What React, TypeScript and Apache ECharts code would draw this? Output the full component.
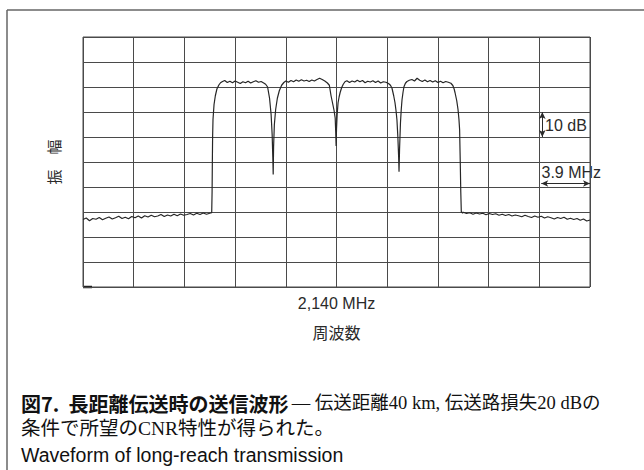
import React, { useEffect, useRef } from 'react';
import * as echarts from 'echarts';

// ---- axis settings (MHz offset from 2,140 MHz; dB relative to top graticule) ----
const X_MIN = -19.5;
const X_MAX = 19.5;
const X_DIV = 3.9; // MHz per division
const Y_MIN = -100;
const Y_MAX = 0;
const Y_DIV = 10; // dB per division

const CENTER_LABEL = '2,140 MHz';
const X_NAME = '周波数';
const Y_NAME = '振　幅';
const DB_NOTE = '10 dB';
const MHZ_NOTE = '3.9 MHz';
const DB_ARROW: [number, number][] = [[15.83, -30], [15.83, -40]];
const MHZ_ARROW: [number, number][] = [[15.75, -58.6], [19.5, -58.6]];

// ---- trace: [MHz offset, dB] ----
const noiseLeft: [number, number][] = [
  [-19.5, -73.0], [-19.25, -72.4], [-19.0, -73.5], [-18.75, -72.6], [-18.5, -72.9],
  [-18.25, -72.2], [-18.0, -73.1], [-17.75, -72.5], [-17.5, -72.0], [-17.25, -72.8],
  [-17.0, -72.3], [-16.75, -71.7], [-16.5, -72.6], [-16.25, -72.1], [-16.0, -72.7],
  [-15.75, -71.8], [-15.5, -72.3], [-15.25, -71.6], [-15.0, -72.4], [-14.75, -71.5],
  [-14.5, -72.0], [-14.25, -71.3], [-14.0, -71.9], [-13.75, -71.6], [-13.5, -71.0],
  [-13.25, -71.8], [-13.0, -71.2], [-12.75, -71.6], [-12.5, -70.9], [-12.25, -71.5],
  [-12.0, -70.8], [-11.75, -71.3], [-11.5, -71.0], [-11.25, -70.6], [-11.0, -71.2],
  [-10.75, -70.5], [-10.5, -71.0], [-10.25, -70.4], [-10.0, -70.9], [-9.75, -70.5],
];
const edgeLeft: [number, number][] = [
  [-9.6, -70.3], [-9.57, -62], [-9.55, -50], [-9.53, -40], [-9.5, -33],
  [-9.42, -27], [-9.32, -23.5], [-9.2, -20.8], [-9.05, -19.2], [-8.92, -18.3],
];
const carrier1: [number, number][] = [
  [-8.8, -17.9], [-8.6, -17.4], [-8.4, -18.2], [-8.2, -17.7], [-8.0, -18.3],
  [-7.8, -17.6], [-7.6, -18.1], [-7.4, -18.6], [-7.2, -17.9], [-7.0, -18.3],
  [-6.8, -17.7], [-6.6, -18.4], [-6.4, -17.9], [-6.2, -17.5], [-6.0, -18.1],
  [-5.8, -17.8], [-5.6, -18.4], [-5.45, -18.9],
];
const notch1: [number, number][] = [
  [-5.3, -20.0], [-5.15, -24.5], [-5.03, -31], [-4.95, -39], [-4.9, -48],
  [-4.87, -55], [-4.84, -44], [-4.78, -35], [-4.68, -29], [-4.55, -24.5],
  [-4.4, -21.5], [-4.22, -19.3], [-4.05, -18.2],
];
const carrier2: [number, number][] = [
  [-3.9, -17.6], [-3.7, -18.1], [-3.5, -17.4], [-3.3, -17.9], [-3.1, -17.2],
  [-2.9, -17.7], [-2.7, -17.1], [-2.5, -17.6], [-2.3, -17.3], [-2.1, -17.8],
  [-1.9, -17.2], [-1.7, -17.6], [-1.5, -17.0], [-1.3, -16.5], [-1.1, -17.0],
  [-0.9, -17.6], [-0.7, -18.4],
];
const notch2: [number, number][] = [
  [-0.55, -19.3], [-0.42, -23.5], [-0.3, -26.5], [-0.19, -29.3], [-0.1, -32.5],
  [-0.06, -38], [-0.03, -43.6], [0.0, -37], [0.05, -31], [0.12, -26.3],
  [0.2, -24], [0.28, -22.2], [0.4, -20.2], [0.52, -18.9], [0.65, -17.9],
];
const carrier3: [number, number][] = [
  [0.8, -17.5], [1.0, -18.2], [1.2, -17.6], [1.4, -18.0], [1.6, -17.3],
  [1.8, -17.9], [2.0, -17.4], [2.2, -18.3], [2.4, -17.7], [2.6, -18.0],
  [2.8, -17.5], [3.0, -18.2], [3.2, -17.6], [3.4, -18.4], [3.6, -17.9],
  [3.8, -18.1], [4.0, -18.6], [4.15, -19.3],
];
const notch3: [number, number][] = [
  [4.27, -20.5], [4.4, -23.5], [4.5, -26.3], [4.58, -29.5], [4.65, -33.2],
  [4.72, -40], [4.78, -48], [4.81, -53.9], [4.85, -45], [4.92, -34.4],
  [4.98, -29], [5.04, -25.1], [5.12, -22], [5.19, -19.9], [5.3, -18.5],
  [5.42, -17.8], [5.6, -17.3],
];
const carrier4: [number, number][] = [
  [5.8, -17.0], [6.0, -17.6], [6.2, -16.5], [6.4, -17.3], [6.6, -17.8],
  [6.8, -17.2], [7.0, -17.9], [7.2, -17.4], [7.4, -18.0], [7.6, -17.5],
  [7.8, -18.2], [8.0, -17.7], [8.2, -18.3], [8.4, -17.8], [8.6, -18.1],
  [8.8, -18.5],
];
const edgeRight: [number, number][] = [
  [8.95, -19.4], [9.05, -20.8], [9.12, -22.3], [9.25, -25.5], [9.35, -29.1],
  [9.42, -33], [9.47, -37], [9.52, -50], [9.56, -62], [9.6, -69.9], [9.7, -70.4],
];
const noiseRight: [number, number][] = [
  [9.75, -70.1], [10.0, -70.6], [10.25, -70.3], [10.5, -70.9], [10.75, -70.4],
  [11.0, -70.8], [11.25, -70.5], [11.5, -71.1], [11.75, -70.6], [12.0, -71.0],
  [12.25, -70.7], [12.5, -71.3], [12.75, -70.9], [13.0, -71.4], [13.25, -71.0],
  [13.5, -71.6], [13.75, -71.2], [14.0, -71.5], [14.25, -71.9], [14.5, -71.3],
  [14.75, -71.8], [15.0, -72.2], [15.25, -71.6], [15.5, -72.1], [15.75, -71.7],
  [16.0, -72.4], [16.25, -71.9], [16.5, -72.3], [16.75, -72.8], [17.0, -72.2],
  [17.25, -72.6], [17.5, -72.1], [17.75, -72.9], [18.0, -72.5], [18.25, -73.0],
  [18.5, -72.6], [18.75, -73.3], [19.0, -72.8], [19.25, -73.6], [19.5, -73.2],
];

const trace = [
  ...noiseLeft, ...edgeLeft, ...carrier1, ...notch1, ...carrier2, ...notch2,
  ...carrier3, ...notch3, ...carrier4, ...edgeRight, ...noiseRight,
];

const CAPTION_BOLD = '図7.  長距離伝送時の送信波形';
const CAPTION_REST = '— 伝送距離40 km, 伝送路損失20 dBの';
const CAPTION_LINE2 = '条件で所望のCNR特性が得られた。';
const CAPTION_EN = 'Waveform of long-reach transmission';

const SANS = '"Liberation Sans", Arial, "Noto Sans CJK JP", sans-serif';
const JP_SANS = '"Noto Sans CJK JP", sans-serif';
const JP_SERIF = '"Liberation Serif", "DejaVu Serif", "Noto Sans CJK JP", serif';
const GRID_COLOR = '#4a4a4a';
const INK = '#2a2a2a';

export default function App() {
  const ref = useRef<HTMLDivElement>(null);
  useEffect(() => {
    if (!ref.current) return;
    const chart = echarts.init(ref.current, null, { renderer: 'svg' });
    chart.setOption({
      animation: false,
      backgroundColor: '#ffffff',
      grid: {
        left: 83, top: 37, right: 54, bottom: 183,
        show: true, borderColor: GRID_COLOR, borderWidth: 1,
      },
      xAxis: {
        type: 'value', min: X_MIN, max: X_MAX, interval: X_DIV,
        axisLine: { show: false }, axisTick: { show: false },
        splitLine: { show: true, lineStyle: { color: GRID_COLOR, width: 1 } },
        axisLabel: {
          show: true, margin: 8, fontSize: 16, fontFamily: SANS, color: INK,
          formatter: (v: number) => (Math.abs(v) < 1e-6 ? CENTER_LABEL : ''),
        },
        name: X_NAME, nameLocation: 'middle', nameGap: 37,
        nameTextStyle: { fontSize: 16, fontFamily: JP_SANS, color: INK, verticalAlign: 'top' },
      },
      yAxis: {
        type: 'value', min: Y_MIN, max: Y_MAX, interval: Y_DIV,
        axisLine: { show: false }, axisTick: { show: false }, axisLabel: { show: false },
        splitLine: { show: true, lineStyle: { color: GRID_COLOR, width: 1 } },
        name: Y_NAME, nameLocation: 'middle', nameGap: 22, nameRotate: 90,
        nameTextStyle: { fontSize: 15, fontFamily: JP_SANS, color: INK },
      },
      series: [
        {
          type: 'line', data: trace, showSymbol: false, symbol: 'none',
          lineStyle: { color: '#262626', width: 1.2 },
          silent: true,
          markLine: {
            silent: true, symbol: ['arrow', 'arrow'], symbolSize: [5, 7],
            label: { show: false },
            lineStyle: { color: INK, width: 1, type: 'solid' },
            data: [
              [{ coord: DB_ARROW[0] }, { coord: DB_ARROW[1] }],
              [{ coord: MHZ_ARROW[0] }, { coord: MHZ_ARROW[1] }],
            ],
          },
        },
      ],
      graphic: [
        { type: 'line', shape: { x1: 7, y1: 10, x2: 644, y2: 10 }, style: { stroke: '#666', lineWidth: 1.5 } },
        { type: 'line', shape: { x1: 7, y1: 10, x2: 7, y2: 470 }, style: { stroke: '#666', lineWidth: 1.5 } },
        { type: 'line', shape: { x1: 83, y1: 287, x2: 92, y2: 287 }, style: { stroke: '#222', lineWidth: 2.5 } },
        {
          type: 'text', x: 545, y: 125,
          style: { text: DB_NOTE, fontSize: 16, fontFamily: SANS, fill: INK, verticalAlign: 'middle', align: 'left' },
        },
        {
          type: 'text', x: 541.5, y: 172.5,
          style: { text: MHZ_NOTE, fontSize: 16, fontFamily: SANS, fill: INK, verticalAlign: 'middle', align: 'left' },
        },
        {
          type: 'text', x: 21, y: 403,
          style: {
            text: `{b|${CAPTION_BOLD}} {s|${CAPTION_REST}}`,
            verticalAlign: 'middle',
            fill: '#111',
            rich: {
              b: { fontSize: 20, fontFamily: JP_SANS, fontWeight: 'bold', fill: '#111' },
              s: { fontSize: 18.5, fontFamily: JP_SERIF, fill: '#111' },
            },
          },
        },
        {
          type: 'text', x: 21, y: 428,
          style: { text: CAPTION_LINE2, fontSize: 19.5, fontFamily: JP_SERIF, fill: '#111', verticalAlign: 'middle' },
        },
        {
          type: 'text', x: 21, y: 455,
          style: { text: CAPTION_EN, fontSize: 19.5, fontFamily: SANS, fill: '#111', verticalAlign: 'middle' },
        },
      ],
    });
    return () => chart.dispose();
  }, []);
  return (
    <div
      ref={ref}
      style={{ position: 'absolute', left: 0, top: 0, width: 644, height: 470, background: '#fff' }}
    />
  );
}
